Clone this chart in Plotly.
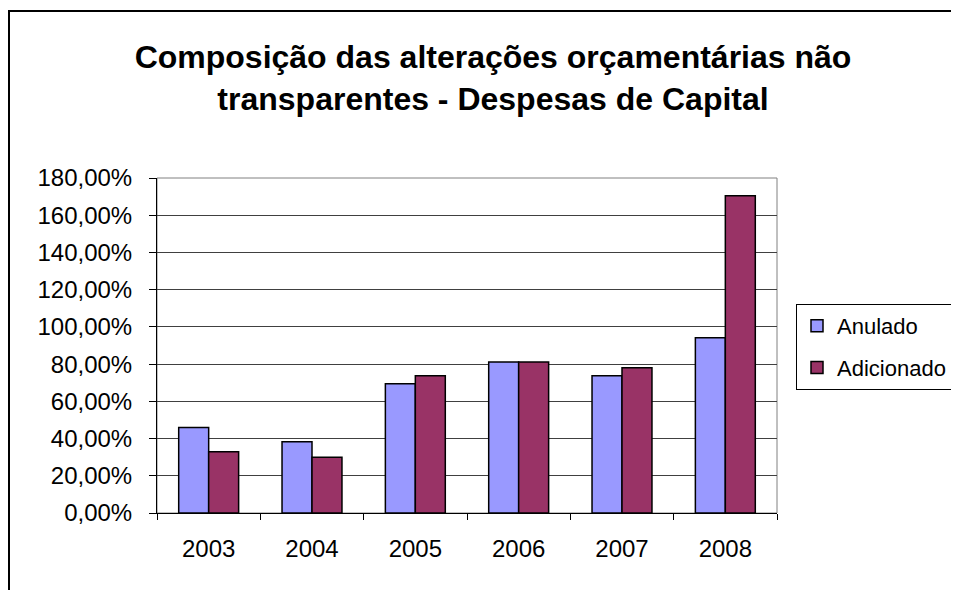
import plotly.graph_objects as go

YEARS = ["2003", "2004", "2005", "2006", "2007", "2008"]
ANULADO = [46.0, 38.3, 69.4, 81.1, 73.7, 94.1]
ADICIONADO = [32.9, 29.9, 73.7, 81.1, 78.0, 170.5]

TITLE = "Composição das alterações orçamentárias não<br>transparentes - Despesas de Capital"
ANULADO_COLOR = "#9999FF"
ADICIONADO_COLOR = "#993366"
FONT = "Liberation Sans, Arial, sans-serif"

# figure sits at (8, 8) in the page, so all pixel positions are page - 8
W, H = 959, 590
L, R, T, B = 149, 769, 170, 505

fig = go.Figure()
fig.add_trace(go.Bar(
    x=YEARS, y=ANULADO, name="Anulado", legendgroup="a",
    marker=dict(color=ANULADO_COLOR, line=dict(color="black", width=1.5)),
))
fig.add_trace(go.Bar(
    x=YEARS, y=ADICIONADO, name="Adicionado", legendgroup="b",
    marker=dict(color=ADICIONADO_COLOR, line=dict(color="black", width=1.5)),
))

pw, ph = R - L, B - T


def px_x(v):
    return (v - L) / pw


def px_y(v):
    return (B - v) / ph


# plot area border (grey) and outer chart frame (black)
fig.add_shape(type="rect", xref="paper", yref="paper", x0=0, x1=1, y0=0, y1=1,
              line=dict(color="#808080", width=1), layer="below")
fig.add_shape(type="rect", xref="paper", yref="paper",
              x0=px_x(1), x1=px_x(W + 20), y0=px_y(H + 20), y1=px_y(3),
              line=dict(color="black", width=2))

fig.update_layout(
    width=W, height=H,
    margin=dict(l=L, r=W - R, t=T, b=H - B, autoexpand=False),
    paper_bgcolor="white", plot_bgcolor="white",
    font=dict(family=FONT, size=24, color="black"),
    separators=",.",
    title=dict(text=TITLE, x=485 / W, xanchor="center",
               y=1 - 60 / H, yanchor="middle",
               font=dict(size=32, color="black", family=FONT, weight="bold")),
    barmode="group", bargap=0.42, bargroupgap=0,
    showlegend=True,
    legend=dict(x=px_x(788), y=px_y(296), xanchor="left", yanchor="top",
                bordercolor="black", borderwidth=1, bgcolor="white",
                font=dict(size=22), traceorder="grouped", tracegroupgap=10,
                itemwidth=30),
    xaxis=dict(type="category", showline=True, linecolor="black", linewidth=1,
               ticks="outside", tickson="boundaries", ticklen=6, tickcolor="black",
               ticklabelstandoff=14, showgrid=False),
    yaxis=dict(range=[0, 180], dtick=20, tickformat=".2f", ticksuffix="%",
               showline=True, linecolor="black", linewidth=1,
               ticks="outside", ticklen=7, tickcolor="black", ticklabelstandoff=12,
               showgrid=True, gridcolor="#404040", gridwidth=1, zeroline=False),
)

fig.write_html("out.html")
